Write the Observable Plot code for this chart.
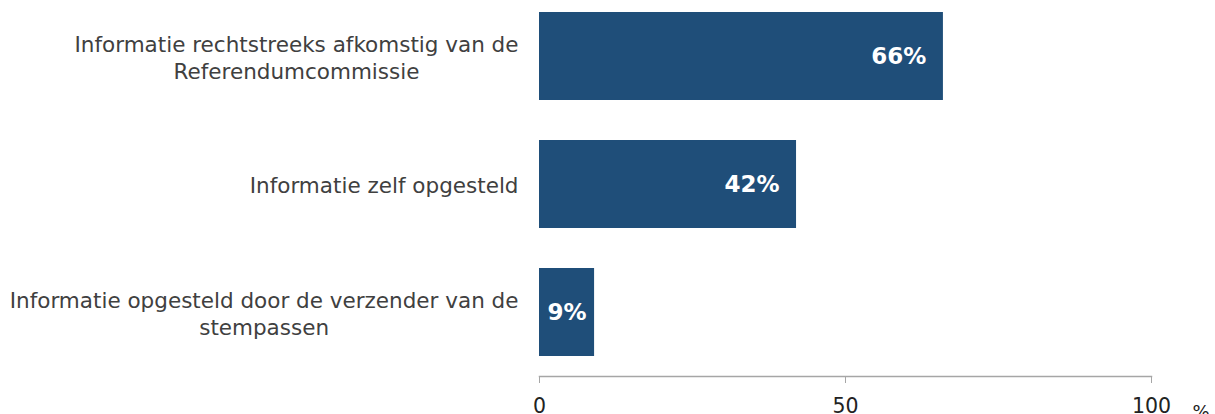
<!DOCTYPE html>
<html>
<head>
<meta charset="utf-8">
<script src="https://cdn.jsdelivr.net/npm/d3@7"></script>
<script src="https://cdn.jsdelivr.net/npm/@observablehq/plot@0.6"></script>
<style>
  html, body { margin: 0; padding: 0; background: #fff; }
  #chart svg { display: block; }
</style>
</head>
<body>
<div id="chart"></div>
<script>
const categories = [
  "Informatie rechtstreeks afkomstig van de\nReferendumcommissie",
  "Informatie zelf opgesteld",
  "Informatie opgesteld door de verzender van de\nstempassen"
];
const values = [66, 42, 9];
const xTicks = [0, 50, 100];
const unitLabel = "%";

const data = categories.map((c, i) => ({category: c, value: values[i], label: values[i] + "%"}));
const labelFont = "DejaVu Sans, Verdana, sans-serif";

const canvas = document.createElement("canvas");
const ctx = canvas.getContext("2d");
function measure(txt, size) {
  ctx.font = `${size}px "DejaVu Sans"`;
  return ctx.measureText(txt).width;
}

const catSize = 21.5;

const chart = Plot.plot({
  width: 1215,
  height: 414,
  marginLeft: 539,
  marginRight: 64,
  marginTop: 12,
  marginBottom: 38,
  style: {fontFamily: labelFont, background: "#fff"},
  x: {domain: [0, 100]},
  y: {domain: categories, range: [12, 356], paddingInner: 0.3125, paddingOuter: 0},
  marks: [
    Plot.barX(data, {x: "value", y: "category", fill: "#1f4e79"}),
    Plot.frame({anchor: "bottom", stroke: "#a6a6a6", strokeWidth: 1.5}),
    Plot.axisX({ticks: xTicks, tickSize: 7, tickPadding: 15, stroke: "#a6a6a6", fontSize: 20.5, fill: "#222", label: null}),
    Plot.axisY({
      tickSize: 0, tickPadding: 21, fontSize: catSize, fill: "#404040", label: null, lineHeight: 1.26,
      render(index, scales, values, dims, context, next) {
        const g = next(index, scales, values, dims, context);
        g.querySelectorAll("text").forEach(t => {
          const spans = t.querySelectorAll("tspan");
          const lines = spans.length ? Array.from(spans, s => s.textContent) : [t.textContent];
          const w = Math.max(...lines.map(l => measure(l, catSize)));
          t.setAttribute("text-anchor", "middle");
          const tr = t.getAttribute("transform") || "";
          t.setAttribute("transform", `${tr} translate(${-w / 2},0)`);
        });
        return g;
      }
    }),
    Plot.text(data.filter(d => d.value >= 20), {
      x: "value", y: "category", text: "label", textAnchor: "end", dx: -17,
      fill: "white", fontWeight: "bold", fontSize: 23
    }),
    Plot.text(data.filter(d => d.value < 20), {
      x: d => d.value / 2, y: "category", text: "label", textAnchor: "middle",
      fill: "white", fontWeight: "bold", fontSize: 23
    }),
    Plot.text([unitLabel], {
      frameAnchor: "bottom-right", text: d => d, textAnchor: "start", lineAnchor: "top",
      dx: 41, dy: 29, fontSize: 18, fill: "#222"
    })
  ]
});
document.getElementById("chart").appendChild(chart);
</script>
</body>
</html>
